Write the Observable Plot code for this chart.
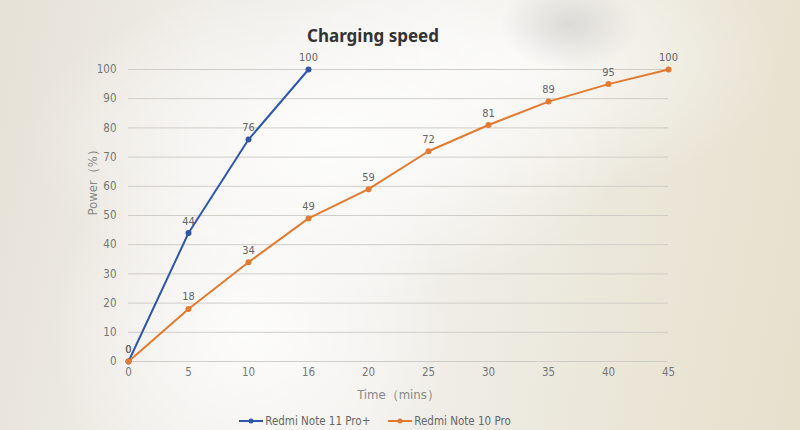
<!DOCTYPE html>
<html><head><meta charset="utf-8">
<script src="https://cdn.jsdelivr.net/npm/d3@7"></script>
<script src="https://cdn.jsdelivr.net/npm/@observablehq/plot@0.6"></script>
<style>
html,body{margin:0;padding:0;}
#wrap{position:relative;width:800px;height:430px;overflow:hidden;
 background:
  radial-gradient(ellipse 70px 45px at 570px 25px, rgba(170,170,170,0.35), rgba(170,170,170,0) 100%),
  radial-gradient(ellipse 300px 160px at 330px 140px, rgba(255,255,255,0.9), rgba(255,255,255,0) 100%),
  radial-gradient(ellipse 200px 200px at 250px 330px, rgba(255,255,255,0.85), rgba(255,255,255,0) 100%),
  radial-gradient(ellipse 260px 140px at 520px 60px, rgba(255,255,255,0.7), rgba(255,255,255,0) 100%),
  linear-gradient(100deg, #e6e1d6 0%, #efede8 25%, #f1f0ec 50%, #ebe7da 75%, #e6e0cc 100%);
 font-family:"Liberation Sans Narrow","DejaVu Sans Condensed","Liberation Sans",sans-serif;}
#title{position:absolute;left:0;top:26px;width:746px;text-align:center;font-family:"Noto Sans","Open Sans",sans-serif;font-weight:700;font-size:17px;line-height:20px;color:#333;z-index:2;}
#chart{position:absolute;left:0;top:0;}
#legend{position:absolute;left:0;top:414px;width:750px;display:flex;justify-content:center;gap:18px;font-size:11.5px;color:#666;}
.li{display:flex;align-items:center;gap:2px;}
</style></head>
<body><div id="wrap"><div id="chart"></div><div id="title">Charging speed</div><div id="legend"></div></div>
<script>
const timeCats = [0,5,10,16,20,25,30,35,40,45];
const yTicks = [0,10,20,30,40,50,60,70,80,90,100];
const series11 = "Redmi Note 11 Pro+";
const series10 = "Redmi Note 10 Pro";
const time11 = [0,5,10,16];
const power11 = [0,44,76,100];
const time10 = [0,5,10,16,20,25,30,35,40,45];
const power10 = [0,18,34,49,59,72,81,89,95,100];
const colors = {[series11]:"#2f57a8",[series10]:"#e27b30"};

const data = [
  ...time11.map((t,i)=>({series:series11,t,p:power11[i]})),
  ...time10.map((t,i)=>({series:series10,t,p:power10[i]}))
];

const plot = Plot.plot({
  width:800, height:410,
  marginLeft:128, marginRight:132, marginTop:69, marginBottom:49,
  style:{background:"transparent",fontFamily:"'Liberation Sans Narrow','DejaVu Sans Condensed',sans-serif",fontSize:"11.5px",color:"#777"},
  x:{type:"point",domain:timeCats,padding:0,label:null},
  y:{domain:[0,100],ticks:yTicks,label:null},
  color:{domain:[series11,series10],range:[colors[series11],colors[series10]]},
  marks:[
    Plot.ruleY(yTicks,{stroke:"#cfcdc8",strokeWidth:1}),
    Plot.axisY({ticks:yTicks,tickSize:0,tickPadding:12,fill:"#777",fontSize:11.5}),
    Plot.axisX({tickSize:0,tickPadding:6,fill:"#777",fontSize:11.5}),
    Plot.text(["Power（%）"],{frameAnchor:"left",dx:-36,rotate:-90,fill:"#888",fontSize:13}),
    Plot.text(["Time（mins）"],{frameAnchor:"bottom",dy:37,fill:"#888",fontSize:13}),
    Plot.line(data,{x:"t",y:"p",z:"series",stroke:"series",strokeWidth:2}),
    Plot.dot(data,{x:"t",y:"p",fill:"series",r:3}),
    Plot.text(data,{x:"t",y:"p",text:d=>String(d.p),dy:-12,fill:"#666",fontSize:11})
  ]
});
document.getElementById("chart").appendChild(plot);

const lg = document.getElementById("legend");
[series11,series10].forEach(s=>{
  const d=document.createElement("div");d.className="li";
  d.innerHTML=`<svg width="24" height="10"><line x1="0" y1="5" x2="24" y2="5" stroke="${colors[s]}" stroke-width="2"/><circle cx="12" cy="5" r="2.5" fill="${colors[s]}"/></svg><span>${s}</span>`;
  lg.appendChild(d);
});
</script></body></html>
